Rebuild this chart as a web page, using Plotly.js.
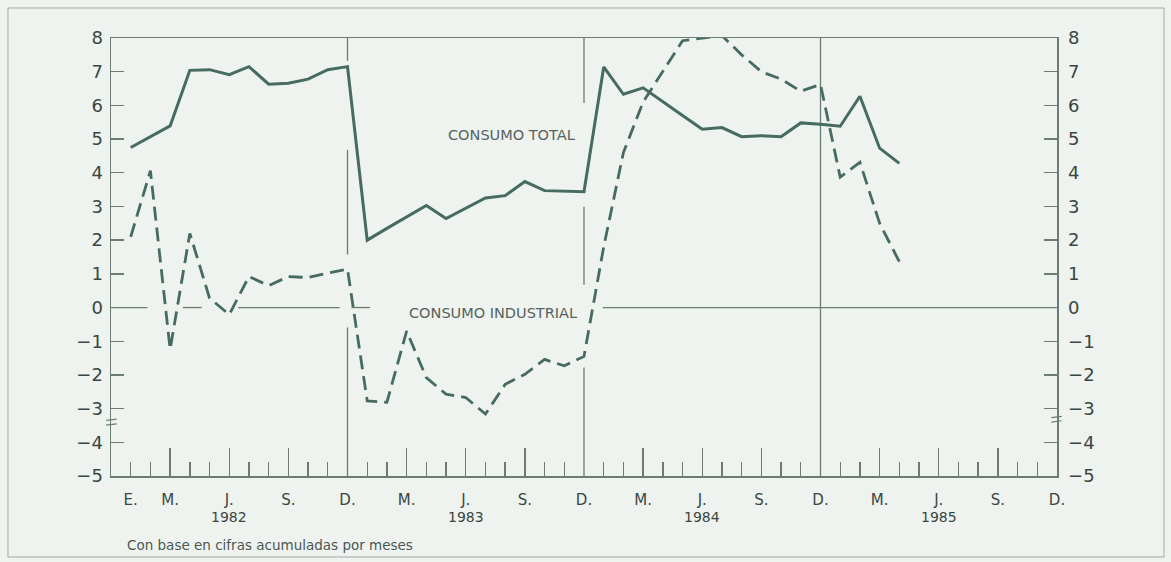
<!DOCTYPE html>
<html><head><meta charset="utf-8">
<script src="https://cdn.plot.ly/plotly-3.0.1.min.js"></script>
<style>html,body{margin:0;padding:0;background:#eef3ef;} #chart{width:1171px;height:562px;}</style>
</head><body><div id="chart"></div>
<script>
// ---- data ----
const years = ['1982', '1983', '1984', '1985'];
const yearLabelPos = [6, 18, 30, 42];
const monthLabelText = ['E.', 'M.', 'J.', 'S.', 'D.', 'M.', 'J.', 'S.', 'D.', 'M.', 'J.', 'S.', 'D.', 'M.', 'J.', 'S.', 'D.'];
const monthLabelPos = [1, 3, 6, 9, 12, 15, 18, 21, 24, 27, 30, 33, 36, 39, 42, 45, 48];
const majorTickPos = [3, 6, 9, 15, 18, 21, 27, 30, 33, 39, 42, 45];
const yearEndPos = [12, 24, 36];
const yTickVals = [8, 7, 6, 5, 4, 3, 2, 1, 0, -1, -2, -3, -4, -5];
const yTickText = ['8', '7', '6', '5', '4', '3', '2', '1', '0', '\u22121', '\u22122', '\u22123', '\u22124', '\u22125'];

// Consumo total (Jan 1982 - Apr 1985)
const consumoTotal = [
  4.75, 5.07, 5.39, 7.04, 7.06, 6.91, 7.15, 6.63, 6.66, 6.78, 7.06, 7.15,
  2.00, 2.35, 2.70, 3.03, 2.64, 2.95, 3.25, 3.32, 3.74, 3.47, 3.45, 3.44,
  7.14, 6.33, 6.52, 6.12, 5.70, 5.29, 5.34, 5.07, 5.10, 5.07, 5.48, 5.44,
  5.38, 6.27, 4.73, 4.28
];
// Consumo industrial (Jan 1982 - Apr 1985)
const consumoIndustrial = [
  2.10, 4.06, -1.24, 2.20, 0.28, -0.21, 0.92, 0.65, 0.92, 0.89, 1.02, 1.14,
  -2.77, -2.81, -0.70, -2.08, -2.57, -2.67, -3.16, -2.28, -1.98, -1.54, -1.73, -1.45,
  1.80, 4.60, 6.10, 7.00, 7.92, 8.00, 8.07, 7.50, 7.00, 6.78, 6.42, 6.62,
  3.87, 4.31, 2.50, 1.36
];

// ---- styling / helpers ----
const lineColor = '#456c5f';
const axisColor = '#6c7c75';
const textColor = '#3a4641';
const months = consumoTotal.map((_, i) => i + 1);
const minorTickPos = [];
for (let m = 1; m < 48; m++) {
  if (!majorTickPos.includes(m) && !yearEndPos.includes(m)) minorTickPos.push(m);
}
// open pieces of the printed reference lines (gaps where curves cross)
const zeroLinePieces = [[0, 1.85], [3.65, 4.6], [6.45, 11.6], [12.2, 13.15], [24.95, 48]];
const yearEndPieces = [
  [[8, 7.32], [4.68, 1.57], [-0.59, -5]],
  [[8, 6.07], [2.99, 0.68], [-1.78, -5]],
  [[8, -5]]
];

const shapes = [];
zeroLinePieces.forEach(p => shapes.push({type: 'line', xref: 'x', yref: 'y', x0: p[0], x1: p[1], y0: 0, y1: 0,
  line: {color: axisColor, width: 1.3}, layer: 'below'}));
yearEndPos.forEach((xp, i) => yearEndPieces[i].forEach(p => shapes.push({type: 'line', xref: 'x', yref: 'y',
  x0: xp, x1: xp, y0: p[0], y1: p[1], line: {color: axisColor, width: 1.3}, layer: 'below'})));
// outer frame
shapes.push({type: 'rect', xref: 'paper', yref: 'paper', x0: -0.1089, x1: 1.1131, y0: -0.1849, y1: 1.0685,
  line: {color: '#a2aca7', width: 1}, fillcolor: 'rgba(0,0,0,0)', layer: 'below'});
// axis break marks
[[-0.005, 0.006, -3.33], [-0.005, 0.006, -3.47], [0.994, 1.005, -3.25], [0.994, 1.005, -3.38]].forEach(b =>
  shapes.push({type: 'line', xref: 'paper', yref: 'y', x0: b[0], x1: b[1], y0: b[2] - 0.02, y1: b[2] + 0.02,
    line: {color: axisColor, width: 1.2}}));

const annotations = [];
years.forEach((yr, i) => annotations.push({text: yr, x: yearLabelPos[i], xref: 'x', y: -0.094, yref: 'paper',
  showarrow: false, xanchor: 'center', yanchor: 'middle', font: {size: 14, color: textColor}}));
annotations.push({text: 'CONSUMO TOTAL', x: 20.3, y: 5.13, xref: 'x', yref: 'y', showarrow: false,
  xanchor: 'center', yanchor: 'middle', font: {size: 14.5, color: '#56625d'}});
annotations.push({text: 'CONSUMO INDUSTRIAL', x: 19.37, y: -0.16, xref: 'x', yref: 'y', showarrow: false,
  xanchor: 'center', yanchor: 'middle', font: {size: 14.5, color: '#56625d'}});
annotations.push({text: 'Con base en cifras acumuladas por meses', x: 0.0148, y: -0.1575, xref: 'paper', yref: 'paper',
  showarrow: false, xanchor: 'left', yanchor: 'middle', font: {size: 13.5, color: '#4b5752'}});

const traces = [
  {x: months, y: consumoTotal, type: 'scatter', mode: 'lines', name: 'Consumo total',
   line: {color: lineColor, width: 3}, xaxis: 'x', yaxis: 'y', hoverinfo: 'x+y'},
  {x: months, y: consumoIndustrial, type: 'scatter', mode: 'lines', name: 'Consumo industrial',
   line: {color: lineColor, width: 2.8, dash: '14px,7px'}, xaxis: 'x', yaxis: 'y', hoverinfo: 'x+y'},
  {x: [null], y: [null], xaxis: 'x2', yaxis: 'y', mode: 'lines', hoverinfo: 'skip', showlegend: false},
  {x: [null], y: [null], xaxis: 'x3', yaxis: 'y', mode: 'lines', hoverinfo: 'skip', showlegend: false},
  {x: [null], y: [null], xaxis: 'x', yaxis: 'y2', mode: 'lines', hoverinfo: 'skip', showlegend: false}
];

const yCommon = {range: [-5, 8], tickmode: 'array', tickvals: yTickVals, ticktext: yTickText,
  ticks: 'inside', ticklen: 13, tickwidth: 1.4, tickcolor: axisColor, showline: true, linecolor: axisColor,
  linewidth: 1.5, showgrid: false, zeroline: false, tickfont: {size: 18, color: textColor}, fixedrange: true};

const layout = {
  width: 1171, height: 562,
  margin: {l: 111, r: 114, t: 38, b: 86},
  paper_bgcolor: '#eef3ef', plot_bgcolor: '#eef3ef',
  showlegend: false,
  font: {family: '"DejaVu Sans", "Liberation Sans", sans-serif', color: textColor},
  xaxis: {range: [0, 48], tickmode: 'array', tickvals: monthLabelPos, ticktext: monthLabelText, ticks: '',
    showgrid: false, zeroline: false, showline: true, linecolor: axisColor, linewidth: 1.5, mirror: true,
    tickfont: {size: 15, color: textColor}, ticklabelstandoff: 9, fixedrange: true},
  xaxis2: {overlaying: 'x', anchor: 'y', range: [0, 48], tickmode: 'array', tickvals: majorTickPos,
    ticks: 'inside', ticklen: 28, tickwidth: 1.4, tickcolor: axisColor, showticklabels: false,
    showgrid: false, zeroline: false, showline: false, fixedrange: true},
  xaxis3: {overlaying: 'x', anchor: 'y', range: [0, 48], tickmode: 'array', tickvals: minorTickPos,
    ticks: 'inside', ticklen: 14, tickwidth: 1.4, tickcolor: axisColor, showticklabels: false,
    showgrid: false, zeroline: false, showline: false, fixedrange: true},
  yaxis: Object.assign({}, yCommon, {side: 'left', ticklabelstandoff: 3}),
  yaxis2: Object.assign({}, yCommon, {side: 'right', overlaying: 'y', anchor: 'x', ticklabelstandoff: 6}),
  shapes: shapes,
  annotations: annotations
};

Plotly.newPlot('chart', traces, layout, {displayModeBar: false, staticPlot: true});
</script>
</body></html>
